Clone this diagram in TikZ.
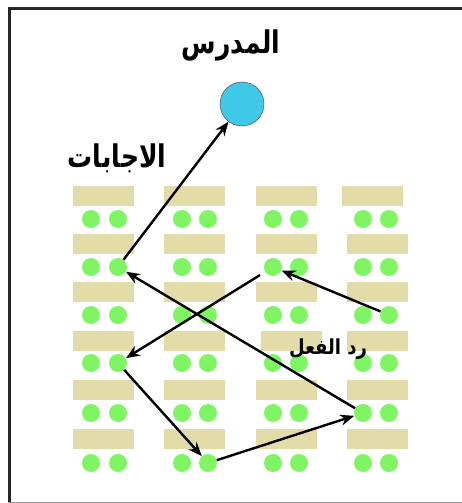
\documentclass[tikz,border=0pt]{standalone}
\usepackage{fontspec}
\newfontfamily\arabicfont[Script=Arabic]{DejaVu Sans}
\TeXXeTstate=1
\usetikzlibrary{arrows.meta}
\definecolor{desk}{HTML}{E3DBA8}
\definecolor{pupil}{HTML}{80F564}
\definecolor{teach}{HTML}{40C8E8}
\tikzset{
  deskbox/.style={fill=desk, draw=none, minimum width=61pt, minimum height=20pt, inner sep=0pt},
  pupildot/.style={circle, fill=pupil, draw=none, minimum size=18pt, inner sep=0pt},
  teacherdot/.style={circle, fill=teach, draw=black!70, dashed, dash pattern=on 1pt off 0.5pt, line width=0.6pt, minimum size=44pt, inner sep=0pt},
  flow/.style={line width=2.4pt, -{Stealth[length=14pt,width=11pt]}},
  lbl/.style={font=\arabicfont\bfseries, inner sep=0pt}
}
\begin{document}
\begin{tikzpicture}[x=1pt,y=-1pt]
\useasboundingbox (0,0) rectangle (462,503);
\fill[white] (0,0) rectangle (462,503);
% frame
\draw[line width=3pt, color=black!85] (9.5,503) -- (9.5,8.5) -- (462,8.5);
\draw[line width=1pt, color=black!40] (8,502) -- (462,502);
% desks and pupils
\foreach \c/\xl/\xa/\xb in {1/73/91/118, 2/164/182/208, 3/256/273/299, 4/347/363/389}{
  \foreach \r/\dy/\py in {1/196/219, 2/244/267, 3/292/315, 4/341/363, 5/390/413, 6/439/463}{
    \pgfmathsetmacro{\dx}{(\c==4 && \r==1) ? -5 : ((\c==3 && \r==4) ? 5 : 0)}
    \node[deskbox, anchor=west] (k-\c-\r) at (\xl+\dx,\dy) {};
    \node[pupildot] (d-\c-\r-1) at (\xa,\py) {};
    \node[pupildot] (d-\c-\r-2) at (\xb,\py) {};
  }
}
% teacher
\node[teacherdot] (teacher) at (242,104) {};
% labels
\node[lbl, font=\arabicfont\bfseries\fontsize{25}{30}\selectfont, yscale=1.25] (tlabel) at (231,45) {\beginR المدرس\endR};
\node[lbl, font=\arabicfont\bfseries\fontsize{25}{30}\selectfont, yscale=1.25] (alabel) at (117,158) {\beginR الاجابات\endR};
\node[lbl, font=\arabicfont\bfseries\fontsize{18}{22}\selectfont, yscale=1.15] (rlabel) at (328,349) {\beginR رد الفعل\endR};
% arrows
\draw[flow] (d-1-2-2) -- (teacher);
\draw[flow] (d-4-5-1) -- (d-1-2-2);
\draw[flow] (d-4-3-2) -- (d-3-2-1);
\draw[flow, shorten <=6pt] (d-3-2-1) -- (d-1-4-2);
\draw[flow] (d-1-4-2) -- (d-2-6-2);
\draw[flow] (d-2-6-2) -- (d-4-5-1);
\end{tikzpicture}
\end{document}
